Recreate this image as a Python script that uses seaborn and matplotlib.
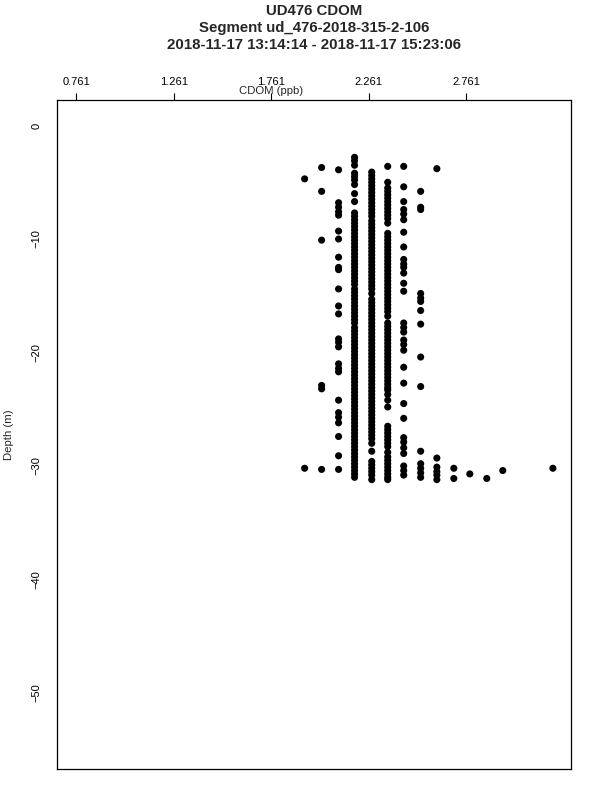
import matplotlib
matplotlib.use("Agg")
import matplotlib.pyplot as plt
import seaborn as sns
import pandas as pd

# ---- data (CDOM level -> depths observed at that level) ----
cdom_levels = [1.932, 2.019, 2.106, 2.188, 2.276, 2.358, 2.440, 2.527, 2.610,
               2.697, 2.779, 2.866, 2.948, 3.205]

depth_c01 = [-4.7, -30.2]
depth_c02 = [-3.7, -5.8, -10.1, -22.9, -23.2, -30.3]
depth_c03 = [-3.9, -6.8, -7.2, -7.6, -7.9, -9.3, -10.0, -11.6, -12.5, -12.7, -14.4,
             -15.9, -16.6, -18.8, -19.1, -19.5, -21.0, -21.4, -21.7, -24.2, -25.3,
             -25.7, -26.2, -27.4, -29.1, -30.3]
depth_c04 = [-2.8, -3.1, -3.5, -4.2, -4.5, -4.8, -5.2, -6.0, -6.7,
             -7.7, -8.0, -8.3, -8.6, -8.9, -9.2, -9.5, -9.8, -10.1, -10.4, -10.7,
             -11.0, -11.3, -11.6, -11.9, -12.2, -12.5, -12.8, -13.1, -13.4, -13.7,
             -14.0, -14.4, -14.7, -15.0, -15.3, -15.6, -15.9, -16.2, -16.5, -16.8,
             -17.1, -17.4, -17.8, -18.1, -18.4, -18.7, -19.0, -19.3, -19.6, -19.9,
             -20.2, -20.5, -20.8, -21.1, -21.4, -21.7, -22.0, -22.3, -22.6, -22.9,
             -23.2, -23.5, -23.8, -24.1, -24.4, -24.7, -25.0, -25.3, -25.6, -25.9,
             -26.2, -26.5, -26.8, -27.1, -27.4, -27.7, -28.0, -28.3, -28.6, -28.9,
             -29.2, -29.5, -29.8, -30.1, -30.4, -30.7, -31.0]
depth_c05 = [-4.1, -4.4, -4.7, -5.0, -5.3, -5.6, -5.9, -6.2, -6.5, -6.8, -7.1, -7.4,
             -7.7, -8.0, -8.4, -8.7, -9.0, -9.3, -9.6, -9.9, -10.2, -10.5, -10.8,
             -11.1, -11.4, -11.7, -12.0, -12.3, -12.6, -12.9, -13.2, -13.5, -13.8,
             -14.1, -14.4, -14.8, -15.3, -15.6, -15.9, -16.2, -16.5, -16.8, -17.1,
             -17.4, -17.7, -18.0, -18.3, -18.6, -18.9, -19.2, -19.5, -19.8, -20.1,
             -20.4, -20.7, -21.0, -21.3, -21.6, -21.9, -22.2, -22.5, -22.8, -23.1,
             -23.4, -23.7, -24.0, -24.3, -24.6, -24.9, -25.2, -25.5, -25.8, -26.1,
             -26.4, -26.7, -27.0, -27.3, -27.6, -28.0, -28.7, -29.6, -29.9, -30.2,
             -30.5, -30.8, -31.2]
depth_c06 = [-3.6, -5.0, -5.5, -5.8, -6.1, -6.4, -6.7, -7.0, -7.3, -7.6, -7.9, -8.2,
             -8.6, -9.5, -9.8, -10.1, -10.4, -10.7, -11.0, -11.3, -11.6, -11.9,
             -12.2, -12.5, -12.8, -13.1, -13.4, -13.7, -14.0, -14.3, -14.6, -14.9,
             -15.2, -15.5, -15.8, -16.1, -16.4, -16.8, -17.4, -17.7, -18.0, -18.3,
             -18.6, -18.9, -19.2, -19.5, -19.8, -20.1, -20.4, -20.7, -21.0, -21.3,
             -21.6, -21.9, -22.2, -22.5, -22.8, -23.1, -23.3, -23.7, -24.2, -24.8,
             -26.5, -26.8, -27.1, -27.4, -27.7, -28.0, -28.3, -28.8, -29.2, -29.5,
             -29.8, -30.1, -30.4, -30.7, -31.0, -31.2]
depth_c07 = [-3.6, -5.4, -6.7, -7.4, -7.8, -8.3, -9.4, -10.7, -11.8, -12.2, -12.5,
             -13.0, -13.9, -14.6, -17.4, -17.8, -18.2, -18.9, -19.3, -19.8, -21.3,
             -22.7, -24.5, -25.8, -27.5, -27.9, -28.4, -28.9, -30.0, -30.4, -30.8]
depth_c08 = [-5.8, -7.2, -7.4, -14.8, -15.2, -15.5, -16.3, -17.5, -20.4, -23.0,
             -28.7, -29.8, -30.2, -30.6, -31.0]
depth_c09 = [-3.8, -29.3, -30.1, -30.5, -30.8, -31.2]
depth_c10 = [-30.2, -31.1]
depth_c11 = [-30.7]
depth_c12 = [-31.1]
depth_c13 = [-30.4]
depth_c14 = [-30.2]

depth_lists = [depth_c01, depth_c02, depth_c03, depth_c04, depth_c05, depth_c06,
               depth_c07, depth_c08, depth_c09, depth_c10, depth_c11, depth_c12,
               depth_c13, depth_c14]

x_ticks = [0.761, 1.261, 1.761, 2.261, 2.761]
x_ticklabels = ["0.761", "1.261", "1.761", "2.261", "2.761"]
y_ticks = [0, -10, -20, -30, -40, -50]
y_ticklabels = ["0", "\u221210", "\u221220", "\u221230", "\u221240", "\u221250"]

title_lines = ["UD476 CDOM", "Segment ud_476-2018-315-2-106",
               "2018-11-17 13:14:14 - 2018-11-17 15:23:06"]

rows = []
for lvl, deps in zip(cdom_levels, depth_lists):
    for d in deps:
        rows.append((lvl, d))
df = pd.DataFrame(rows, columns=["CDOM", "Depth"])

# ---- plot ----
sns.set_style("white")
plt.rcParams["font.family"] = ["Liberation Sans", "DejaVu Sans"]

fig = plt.figure(figsize=(6, 8), dpi=100)
ax = fig.add_axes([0.095, 0.03875, 0.8567, 0.83625])

sns.scatterplot(data=df, x="CDOM", y="Depth", ax=ax, color="black",
                s=26, edgecolor="none", linewidth=0)

ax.set_xlim(0.662, 3.298)
ax.set_ylim(-56.7, 2.25)

for sp in ax.spines.values():
    sp.set_visible(True)
    sp.set_color("black")
    sp.set_linewidth(0.9)

ax.xaxis.tick_top()
ax.set_xticks(x_ticks)
ax.set_xticklabels(x_ticklabels, fontsize=8)
ax.set_yticks(y_ticks)
ax.set_yticklabels(y_ticklabels, fontsize=8, rotation=90, va="center")
ax.tick_params(axis="x", direction="out", length=5, width=0.8, pad=4.5, colors="black")
ax.tick_params(axis="y", direction="out", length=5, width=0.8, pad=6, colors="black")
ax.set_xlabel("")
ax.set_ylabel("")

fig.text(271 / 600, 1 - 91 / 800, "CDOM (ppb)", ha="center", va="center", fontsize=8.2)
fig.text(9 / 600, 1 - 435 / 800, "Depth (m)", ha="center", va="center",
         fontsize=8.2, rotation=90)

for i, (line, yy) in enumerate(zip(title_lines, [11, 28, 45])):
    fig.text(314 / 600, 1 - yy / 800, line, ha="center", va="center",
             fontsize=10.8, fontweight="bold")

fig.savefig("out.png", dpi=100, facecolor="white")
